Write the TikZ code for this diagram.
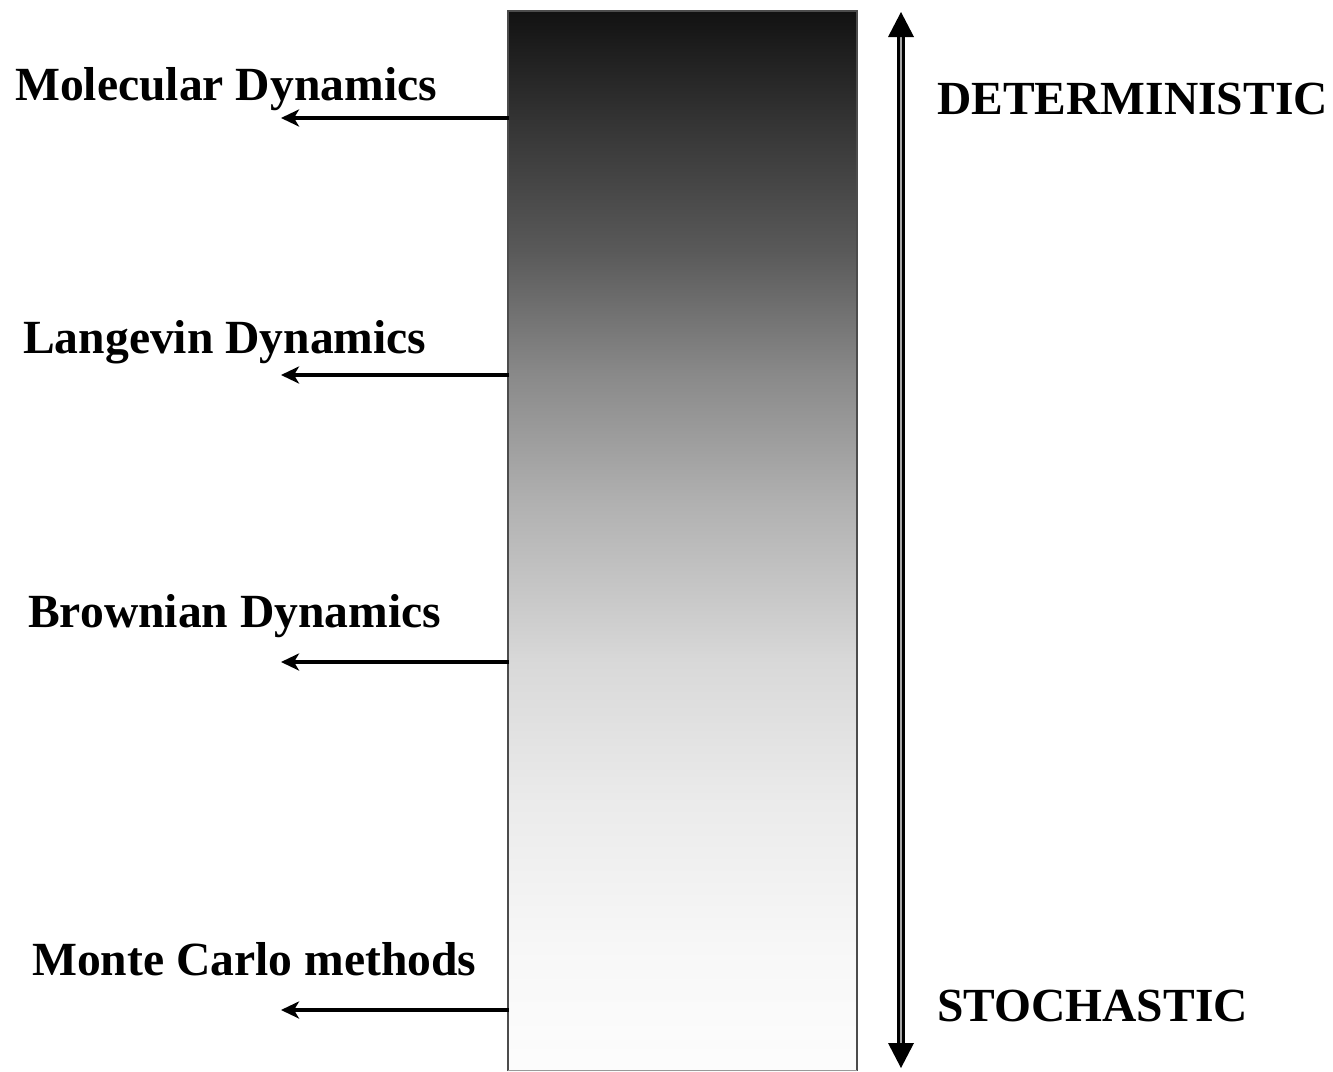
\documentclass[tikz,border=0pt]{standalone}
\usepackage{fontspec}
\setmainfont{Liberation Serif}
\usetikzlibrary{arrows.meta}
\pgfdeclareverticalshading{mdgrad}{100bp}{
  color(0bp)=(black!1);
  color(25bp)=(black!1);
  color(30.65bp)=(black!3);
  color(37.75bp)=(black!8);
  color(44.25bp)=(black!15);
  color(51.9bp)=(black!31);
  color(57.8bp)=(black!46);
  color(63.7bp)=(black!65);
  color(69.95bp)=(black!80);
  color(75bp)=(black!93);
  color(100bp)=(black!93)}
\tikzset{
  lbl/.style={font=\fontsize{47.6}{56}\selectfont\bfseries, inner sep=0pt, anchor=base west},
  rlbl/.style={font=\fontsize{47.5}{56}\selectfont\bfseries, inner sep=0pt, anchor=base west},
  method/.style={line width=3.5pt, -{Stealth[length=18pt,width=17pt,inset=5pt]}},
  axisline/.style={double=black!35, double distance=2.5pt, line width=2.8pt, draw=black},
  axhead/.style={fill=black}
}
\begin{document}
\begin{tikzpicture}[x=1pt,y=-1pt]
\useasboundingbox (0,0) rectangle (1333,1071);
% gradient bar
\shade[shading=mdgrad] (508,11) rectangle (857,1071);
\draw[black!70, line width=1.6pt] (508,1071) -- (508,11) -- (857,11) -- (857,1071);
\draw[black!40, line width=1pt] (508,1070.5) -- (857,1070.5);
% anchors on bar
\coordinate (s1) at (509,118);
\coordinate (s2) at (509,375);
\coordinate (s3) at (509,662);
\coordinate (s4) at (509,1010);
\coordinate (e1) at (281,118);
\coordinate (e2) at (281,375);
\coordinate (e3) at (281,662);
\coordinate (e4) at (281,1010);
\draw[method] (s1) -- (e1);
\draw[method] (s2) -- (e2);
\draw[method] (s3) -- (e3);
\draw[method] (s4) -- (e4);
% labels
\node[lbl] (md) at (15,100) {Molecular Dynamics};
\node[lbl] (ld) at (23,353) {Langevin Dynamics};
\node[lbl] (bd) at (28,627) {Brownian Dynamics};
\node[lbl] (mc) at (32,975) {Monte Carlo methods};
\node[rlbl] (det) at (937,114) {DETERMINISTIC};
\node[rlbl] (sto) at (937,1021) {STOCHASTIC};
% double arrow
\coordinate (top) at (901,12);
\coordinate (bot) at (901,1068);
\coordinate (topb) at (901,34);
\coordinate (botb) at (901,1046);
\draw[axisline] (topb) -- (botb);
\fill[axhead] (top) -- ++(-13,25) -- ++(26,0) -- cycle;
\fill[axhead] (bot) -- ++(-13,-25) -- ++(26,0) -- cycle;
\end{tikzpicture}
\end{document}
